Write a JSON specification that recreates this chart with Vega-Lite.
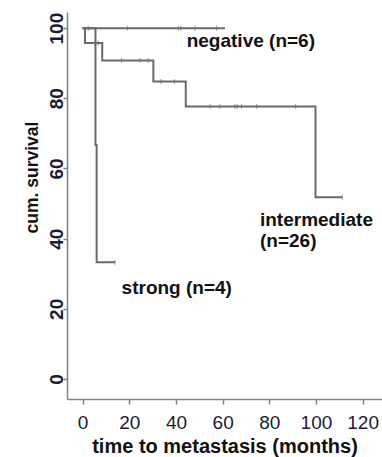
{
  "$schema": "https://vega.github.io/schema/vega-lite/v6.json",
  "width": 315,
  "height": 387,
  "autosize": {"type": "none"},
  "padding": {"left": 67, "top": 12, "right": 0, "bottom": 58},
  "background": "white",
  "config": {"view": {"stroke": null}, "font": "Liberation Sans"},
  "datasets": {
    "curves": [
      {"group": "negative", "time": 0, "surv": 100},
      {"group": "negative", "time": 61, "surv": 100},
      {"group": "strong", "time": 0, "surv": 100},
      {"group": "strong", "time": 5.5, "surv": 66.7},
      {"group": "strong", "time": 6, "surv": 33.3},
      {"group": "strong", "time": 13.9, "surv": 33.3},
      {"group": "intermediate", "time": 0, "surv": 100},
      {"group": "intermediate", "time": 1, "surv": 95.8},
      {"group": "intermediate", "time": 8.4, "surv": 90.8},
      {"group": "intermediate", "time": 30.3, "surv": 84.8},
      {"group": "intermediate", "time": 44.2, "surv": 77.7},
      {"group": "intermediate", "time": 99.8, "surv": 51.8},
      {"group": "intermediate", "time": 111.3, "surv": 51.8}
    ],
    "censors": [
      {"group": "negative", "time": 2.4, "surv": 100},
      {"group": "negative", "time": 19.1, "surv": 100},
      {"group": "negative", "time": 41, "surv": 100},
      {"group": "negative", "time": 42.1, "surv": 100},
      {"group": "negative", "time": 48.1, "surv": 100},
      {"group": "negative", "time": 57.4, "surv": 100},
      {"group": "strong", "time": 13.9, "surv": 33.3},
      {"group": "intermediate", "time": 5.3, "surv": 95.8},
      {"group": "intermediate", "time": 6.7, "surv": 95.8},
      {"group": "intermediate", "time": 16.7, "surv": 90.8},
      {"group": "intermediate", "time": 24.6, "surv": 90.8},
      {"group": "intermediate", "time": 28.1, "surv": 90.8},
      {"group": "intermediate", "time": 33.6, "surv": 84.8},
      {"group": "intermediate", "time": 39.3, "surv": 84.8},
      {"group": "intermediate", "time": 54.6, "surv": 77.7},
      {"group": "intermediate", "time": 58.8, "surv": 77.7},
      {"group": "intermediate", "time": 65.3, "surv": 77.7},
      {"group": "intermediate", "time": 66.3, "surv": 77.7},
      {"group": "intermediate", "time": 68.1, "surv": 77.7},
      {"group": "intermediate", "time": 74.6, "surv": 77.7},
      {"group": "intermediate", "time": 91.3, "surv": 77.7},
      {"group": "intermediate", "time": 111.3, "surv": 51.8}
    ],
    "labels": [
      {"text": "negative (n=6)", "time": 44.6, "surv": 94.5},
      {"text": "intermediate", "time": 76.0, "surv": 43.6},
      {"text": "(n=26)", "time": 76.0, "surv": 37.6},
      {"text": "strong (n=4)", "time": 16.7, "surv": 24.2}
    ]
  },
  "layer": [
    {
      "data": {"name": "curves"},
      "mark": {"type": "line", "interpolate": "step-after", "color": "#6a6a6a", "strokeWidth": 2},
      "encoding": {
        "x": {
          "field": "time", "type": "quantitative",
          "scale": {"domain": [-6.7, 128.3], "nice": false, "zero": false},
          "axis": {
            "title": "time to metastasis (months)",
            "values": [0, 20, 40, 60, 80, 100, 120],
            "grid": false,
            "domainColor": "#808080", "domainWidth": 1.5,
            "tickColor": "#808080", "tickSize": 5, "tickWidth": 1.5,
            "labelFontSize": 19, "labelColor": "#1a1a3a", "labelPadding": 9,
            "labelFlush": false, "labelOverlap": false,
            "titleFontSize": 20, "titleFontWeight": "bold", "titleColor": "#111111",
            "titleBaseline": "alphabetic", "titleY": 53
          }
        },
        "y": {
          "field": "surv", "type": "quantitative",
          "scale": {"domain": [-5.7, 104.6], "nice": false, "zero": false},
          "axis": {
            "title": "cum. survival",
            "values": [0, 20, 40, 60, 80, 100],
            "grid": false,
            "domainColor": "#808080", "domainWidth": 1.5,
            "tickColor": "#808080", "tickSize": 4, "tickWidth": 1.5,
            "labelFontSize": 19, "labelFontWeight": "bold", "labelColor": "#1a1a3a", "labelPadding": 1,
            "labelAngle": -90, "labelAlign": "center", "labelBaseline": "alphabetic",
            "labelFlush": false, "labelOverlap": false,
            "titleFontSize": 17.5, "titleFontWeight": "bold", "titleColor": "#111111",
            "titleAngle": -90, "titleAlign": "center", "titleBaseline": "alphabetic",
            "titleX": -30, "titleY": 165
          }
        },
        "detail": {"field": "group"}
      }
    },
    {
      "data": {"name": "censors"},
      "mark": {"type": "tick", "orient": "vertical", "size": 5, "thickness": 1, "color": "#6a6a6a"},
      "encoding": {
        "x": {"field": "time", "type": "quantitative"},
        "y": {"field": "surv", "type": "quantitative"}
      }
    },
    {
      "data": {"name": "labels"},
      "mark": {"type": "text", "align": "left", "baseline": "alphabetic", "fontSize": 19, "fontWeight": "bold", "color": "#111111"},
      "encoding": {
        "x": {"field": "time", "type": "quantitative"},
        "y": {"field": "surv", "type": "quantitative"},
        "text": {"field": "text"}
      }
    }
  ]
}
